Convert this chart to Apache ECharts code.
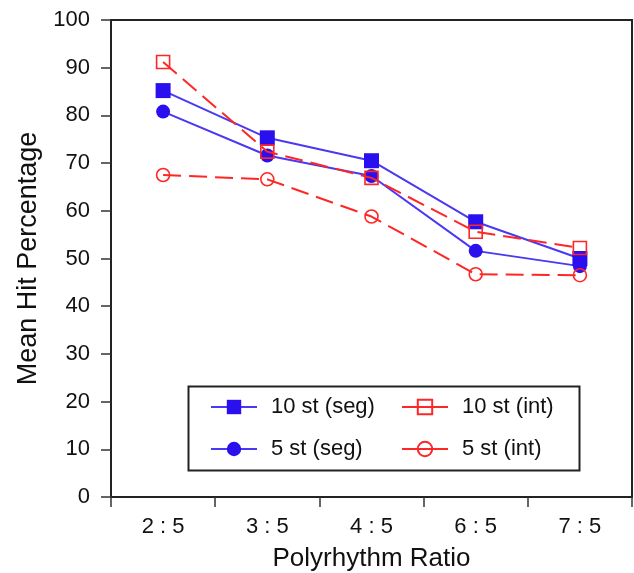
<!DOCTYPE html>
<html>
<head>
<meta charset="utf-8">
<script src="https://cdn.jsdelivr.net/npm/echarts@6/dist/echarts.min.js"></script>
<style>html,body{margin:0;padding:0;background:#fff}#c{width:634px;height:573px}</style>
</head>
<body>
<div id="c"></div>
<script>
var categories = ['2 : 5', '3 : 5', '4 : 5', '6 : 5', '7 : 5'];
var tenSeg = [85.2, 75.3, 70.5, 57.7, 50.0];
var fiveSeg = [80.8, 71.6, 67.3, 51.6, 48.4];
var tenInt = [91.2, 72.4, 66.9, 55.6, 52.2];
var fiveInt = [67.5, 66.6, 58.8, 46.7, 46.5];
var yTicks = [0, 10, 20, 30, 40, 50, 60, 70, 80, 90, 100];

var BLUE_LINE = '#4a38f2';
var BLUE = '#2a10ee';
var RED = '#ff2626';
var FONT = 'Liberation Sans, Arial, sans-serif';

var chart = echarts.init(document.getElementById('c'), null, {renderer: 'canvas'});

function blueSeries(name, data, symbol, size) {
  return {
    name: name, type: 'line', data: data, symbol: symbol, symbolSize: size,
    lineStyle: {color: BLUE_LINE, width: 2},
    itemStyle: {color: BLUE, borderWidth: 0},
    emphasis: {disabled: true}, animation: false, z: 2
  };
}
function redSeries(name, data, symbol, size) {
  return {
    name: name, type: 'line', data: data, symbol: symbol, symbolSize: size,
    lineStyle: {color: RED, width: 2, type: [18, 8]},
    itemStyle: {color: 'rgba(255,255,255,0)', borderColor: RED, borderWidth: 1.6},
    emphasis: {disabled: true}, animation: false, z: 3
  };
}

var legendCommon = {
  orient: 'vertical', top: 391, itemWidth: 46, itemHeight: 18, itemGap: 20,
  textStyle: {fontFamily: FONT, fontSize: 22, color: '#111', lineHeight: 22, padding: [0, 0, 0, 9]},
  selectedMode: false
};

chart.setOption({
  backgroundColor: '#fff',
  animation: false,
  textStyle: {fontFamily: FONT},
  grid: {left: 111, right: 2, top: 20, bottom: 76, show: true, borderColor: '#222', borderWidth: 2,
         containLabel: false, outerBoundsMode: 'none'},
  xAxis: {
    type: 'category', data: categories, boundaryGap: true,
    name: 'Polyrhythm Ratio', nameLocation: 'middle', nameGap: 49,
    nameTextStyle: {fontFamily: FONT, fontSize: 26, color: '#111'},
    axisLine: {lineStyle: {color: '#222', width: 2}},
    axisTick: {show: true, length: 10, inside: false, lineStyle: {color: '#333', width: 1.5}},
    axisLabel: {fontFamily: FONT, fontSize: 22, color: '#111', margin: 19},
    splitLine: {show: false}
  },
  yAxis: {
    type: 'value', min: yTicks[0], max: yTicks[yTicks.length - 1], interval: 10,
    name: 'Mean Hit Percentage', nameLocation: 'middle', nameGap: 67,
    nameTextStyle: {fontFamily: FONT, fontSize: 27, color: '#111'},
    axisLine: {show: true, lineStyle: {color: '#222', width: 2}},
    axisTick: {show: true, length: 10, inside: false, lineStyle: {color: '#333', width: 1.5}},
    axisLabel: {fontFamily: FONT, fontSize: 22, color: '#111', margin: 21},
    splitLine: {show: false}
  },
  legend: [
    Object.assign({left: 205, data: ['10 st (seg)', '5 st (seg)']}, legendCommon),
    Object.assign({left: 396, data: [
      {name: '10 st (int)', lineStyle: {type: 'solid'}},
      {name: '5 st (int)', lineStyle: {type: 'solid'}}
    ]}, legendCommon)
  ],
  graphic: [{
    type: 'rect', left: 186, top: 384, z: 100, silent: true,
    shape: {width: 391, height: 84},
    style: {fill: 'none', stroke: '#222', lineWidth: 2}
  }],
  series: [
    blueSeries('10 st (seg)', tenSeg, 'rect', 15),
    blueSeries('5 st (seg)', fiveSeg, 'circle', 14),
    redSeries('10 st (int)', tenInt, 'rect', 13),
    redSeries('5 st (int)', fiveInt, 'circle', 13)
  ]
});
</script>
</body>
</html>
